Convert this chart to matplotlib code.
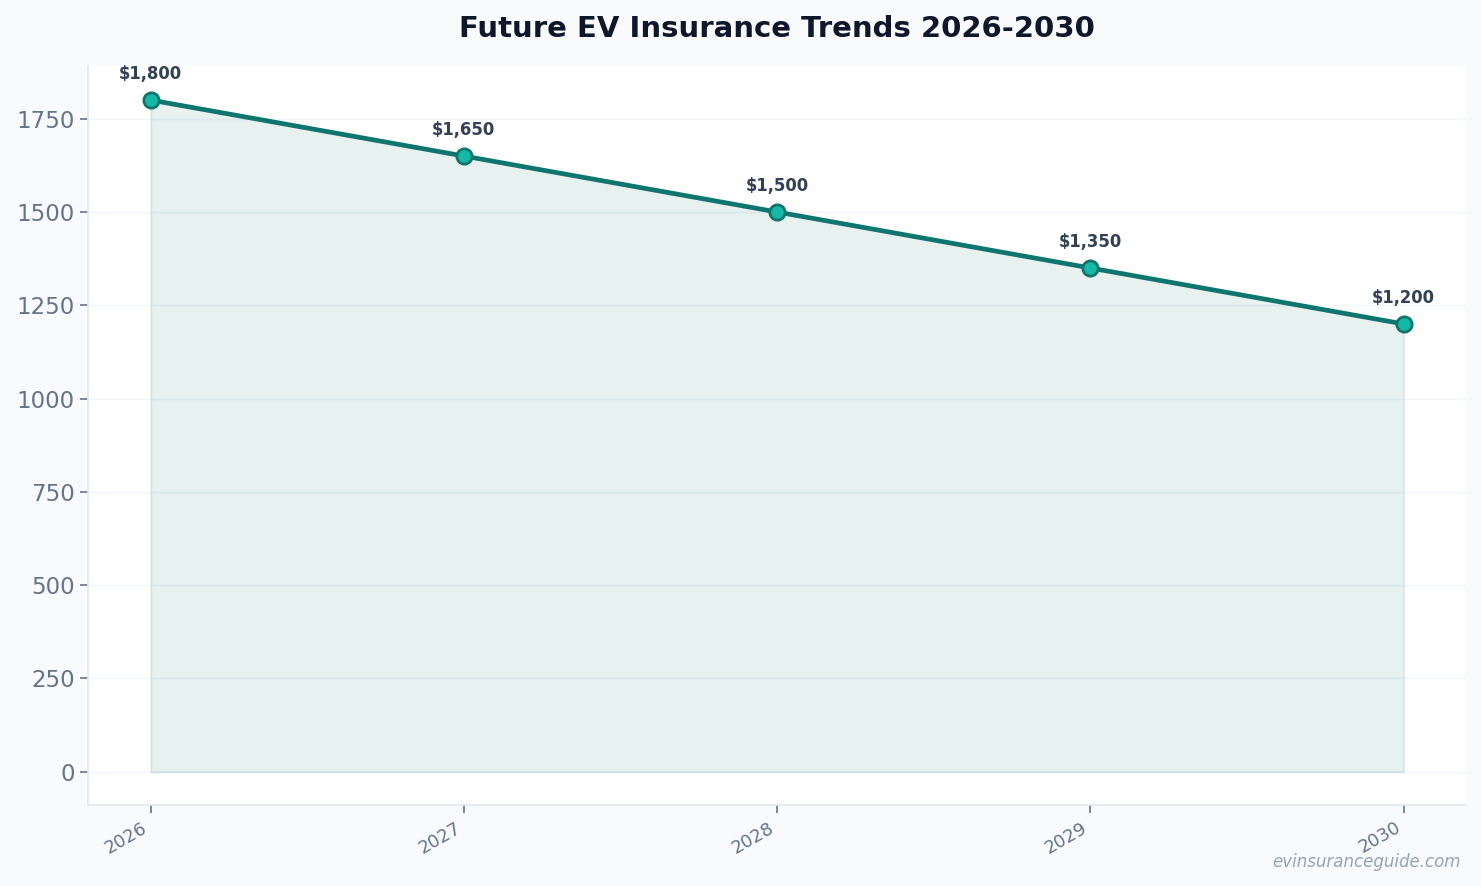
import matplotlib
matplotlib.use('Agg')
import matplotlib.pyplot as plt

years = [2026, 2027, 2028, 2029, 2030]
premiums = [1800, 1650, 1500, 1350, 1200]
yticks = [0, 250, 500, 750, 1000, 1250, 1500, 1750]

line_color = '#0f766e'
marker_color = '#14b8a6'
text_muted = '#64748b'

fig, ax = plt.subplots(figsize=(14.81, 8.86), dpi=100)
fig.patch.set_facecolor('#f8fafc')
ax.set_facecolor('white')

ax.fill_between(years, premiums, 0, color=line_color, alpha=0.1, linewidth=1.5, zorder=2)
ax.plot(years, premiums, color=line_color, linewidth=3.4, marker='o',
        markersize=11, markerfacecolor=marker_color, markeredgecolor=line_color,
        markeredgewidth=2, zorder=3)

for x, y in zip(years, premiums):
    ax.annotate(f'${y:,}', xy=(x, y), xytext=(0, 12), textcoords='offset points',
                ha='center', va='bottom', fontsize=11.9, fontweight='bold',
                color='#334155')

ax.set_xticks(years)
ax.set_xticklabels([str(y) for y in years], rotation=30, ha='right')
ax.set_yticks(yticks)
ax.tick_params(axis='y', labelsize=16.5, colors=text_muted, length=6, width=1.2)
ax.tick_params(axis='x', labelsize=13, colors=text_muted, length=6, width=1.2)

ax.grid(axis='y', color='#f1f5f9', linewidth=1, zorder=0)
ax.set_axisbelow(True)
for side in ['top', 'right']:
    ax.spines[side].set_visible(False)
for side in ['left', 'bottom']:
    ax.spines[side].set_color('#e2e8f0')
    ax.spines[side].set_linewidth(1.2)

ax.set_title('Future EV Insurance Trends 2026-2030', fontsize=21,
             fontweight='bold', color='#0f172a', pad=21)

fig.text(0.986, 0.017, 'evinsuranceguide.com', ha='right', va='bottom',
         fontsize=12, style='italic', color='#94a3b8')

plt.subplots_adjust(left=0.0594, right=0.99, top=0.925, bottom=0.091)
plt.savefig('out.png', dpi=100, facecolor=fig.get_facecolor())
